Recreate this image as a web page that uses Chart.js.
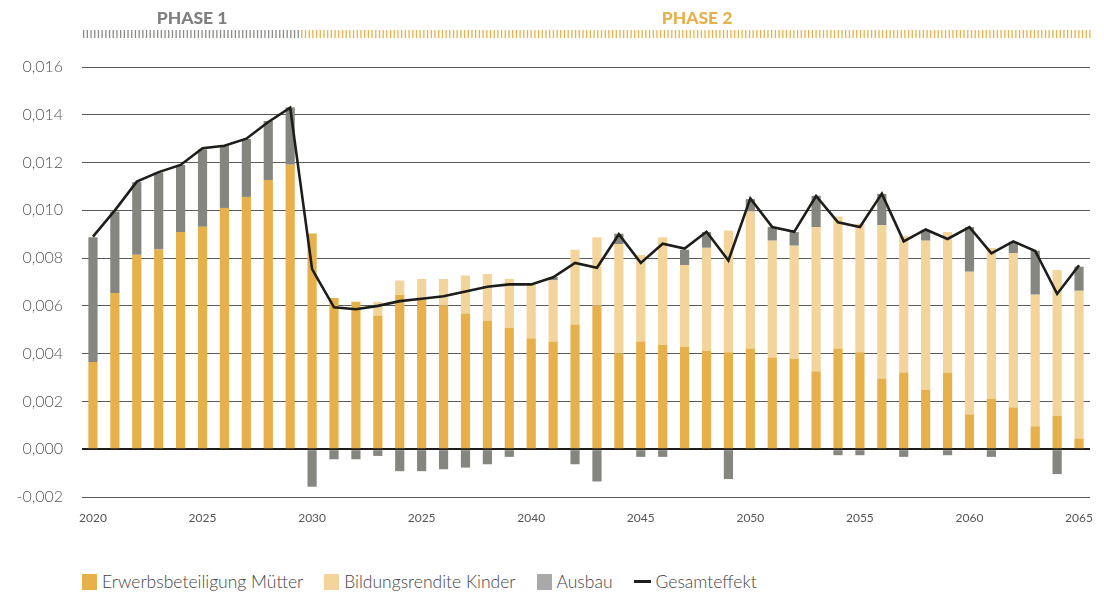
<!DOCTYPE html>
<html>
<head>
<meta charset="utf-8">
<script src="https://cdn.jsdelivr.net/npm/chart.js@4.4.0/dist/chart.umd.min.js"></script>
<style>
  html, body { margin: 0; padding: 0; background: #fff; }
  #wrap { position: relative; width: 1104px; height: 593px; }
  #chartBox { position: absolute; left: 0; top: 0; width: 1104px; height: 530px; }
  #legend { position: absolute; left: 82px; top: 571px; display: flex; font-family: Lato, 'Open Sans', sans-serif; font-size: 17.5px; font-weight: 300; color: #444; }
  #legend .item { display: flex; align-items: center; margin-right: 21px; }
  #legend .sw { width: 15px; height: 16px; margin-right: 5px; }
  #legend .ln { width: 17px; height: 3px; background: #1d1d1b; margin-right: 5px; }
</style>
</head>
<body>
<div id="wrap">
  <div id="chartBox"><canvas id="chart"></canvas></div>
  <div id="legend"></div>
</div>
<script>
// Data
const years = [];
for (let y = 2020; y <= 2065; y++) years.push(String(y));
const tickLabels = ['2020', '2025', '2030', '2025', '2040', '2045', '2050', '2055', '2060', '2065'];
const yTicks = [-0.002, 0, 0.002, 0.004, 0.006, 0.008, 0.010, 0.012, 0.014, 0.016];

const erwerbMuetter = [
    0.00365, 0.00654, 0.00814, 0.00836, 0.00909, 0.00931, 0.0101, 0.01056, 0.01127, 0.01191,
    0.00903, 0.00633, 0.00617, 0.0056, 0.00647, 0.00626, 0.00601, 0.00568, 0.00539, 0.00509,
    0.00463, 0.00451, 0.00522, 0.00601, 0.00401, 0.00451, 0.00436, 0.00429, 0.00412, 0.00406,
    0.00422, 0.00384, 0.00379, 0.00326, 0.00422, 0.00406, 0.00296, 0.00321, 0.00248, 0.00321,
    0.00146, 0.00212, 0.00175, 0.00096, 0.00139, 0.00045
];
const bildungKinder = [
    0, 0, 0, 0, 0, 0, 0, 0, 0, 0,
    0, 0, 0, 0.00057, 0.00059, 0.00087, 0.00112, 0.00159, 0.00194, 0.00204,
    0.00226, 0.00256, 0.00313, 0.00286, 0.00458, 0.00362, 0.00451, 0.00342, 0.00431, 0.0051,
    0.00573, 0.00489, 0.00473, 0.00604, 0.00552, 0.00538, 0.00642, 0.00573, 0.00625, 0.00588,
    0.00597, 0.0063, 0.00646, 0.00551, 0.00611, 0.00618
];
const ausbau = [
    0.00522, 0.00341, 0.00304, 0.00322, 0.00281, 0.00324, 0.00259, 0.00243, 0.00247, 0.0024,
    -0.00157, -0.00042, -0.00042, -0.00028, -0.00092, -0.00092, -0.00084, -0.00077, -0.00063, -0.00032,
    0, 0.00014, -0.00063, -0.00135, 0.00043, -0.00032, -0.00032, 0.00064, 0.00066, -0.00125,
    0.00052, 0.00057, 0.00057, 0.00131, -0.00025, -0.00025, 0.00131, -0.00032, 0.00043, -0.00025,
    0.00187, -0.00032, 0.00047, 0.00184, -0.00104, 0.00101
];
const gesamteffekt = [
    0.0089, 0.0100, 0.0112, 0.0116, 0.0119, 0.0126, 0.0127, 0.0130, 0.0137, 0.0143,
    0.00754, 0.00594, 0.00586, 0.0060, 0.0062, 0.0063, 0.0064, 0.0066, 0.0068, 0.0069,
    0.0069, 0.0072, 0.0078, 0.0076, 0.0090, 0.0078, 0.0086, 0.0084, 0.0091, 0.0079,
    0.0105, 0.0093, 0.0091, 0.0106, 0.0095, 0.0093, 0.0107, 0.0087, 0.0092, 0.0088,
    0.0093, 0.0082, 0.0087, 0.0083, 0.0065, 0.0077
];

const seriesNames = ['Erwerbsbeteiligung Mütter', 'Bildungsrendite Kinder', 'Ausbau', 'Gesamteffekt'];
const phaseNames = ['PHASE 1', 'PHASE 2'];
const phase1Years = 10; // 2020-2029

const YELLOW = '#e6b14a';
const LIGHT = '#f3d49b';
const GRAY = '#868681';
const LINE = '#1d1d1b';

// phase header strip above the plot
const phasePlugin = {
    id: 'phases',
    afterDraw(chart) {
        const ctx = chart.ctx;
        const x = chart.scales.x;
        const area = chart.chartArea;
        const split = (x.getPixelForValue(phase1Years - 1) + x.getPixelForValue(phase1Years)) / 2;
        const left = area.left + 1;
        const right = area.right + 3;

        ctx.save();
        ctx.lineWidth = 8;
        ctx.setLineDash([1.3, 2.4]);
        ctx.strokeStyle = '#8a8a87';
        ctx.beginPath();
        ctx.moveTo(left, 34);
        ctx.lineTo(split, 34);
        ctx.stroke();
        ctx.strokeStyle = YELLOW;
        ctx.beginPath();
        ctx.moveTo(split, 34);
        ctx.lineTo(right, 34);
        ctx.stroke();
        ctx.setLineDash([]);

        ctx.font = "900 17.5px Lato, 'Open Sans', sans-serif";
        ctx.textAlign = 'center';
        ctx.textBaseline = 'middle';
        ctx.fillStyle = '#808080';
        ctx.fillText(phaseNames[0], (left + split) / 2, 18);
        ctx.fillStyle = YELLOW;
        ctx.fillText(phaseNames[1], (split + right) / 2, 18);
        ctx.restore();
    }
};

const barOpts = { barPercentage: 0.42, categoryPercentage: 1, borderWidth: 0, order: 1 };

new Chart(document.getElementById('chart'), {
    type: 'bar',
    data: {
        labels: years,
        datasets: [
            { label: seriesNames[0], data: erwerbMuetter, backgroundColor: YELLOW, ...barOpts },
            { label: seriesNames[1], data: bildungKinder, backgroundColor: LIGHT, ...barOpts },
            { label: seriesNames[2], data: ausbau, backgroundColor: GRAY, ...barOpts },
            {
                label: seriesNames[3],
                data: gesamteffekt,
                type: 'line',
                stack: 'total',
                order: 0,
                borderColor: LINE,
                borderWidth: 2.6,
                pointRadius: 0,
                tension: 0,
                fill: false
            }
        ]
    },
    options: {
        responsive: true,
        maintainAspectRatio: false,
        animation: false,
        layout: { padding: { top: 67, right: 14, left: 0, bottom: 0 } },
        plugins: {
            legend: { display: false },
            tooltip: { enabled: false }
        },
        scales: {
            x: {
                stacked: true,
                grid: { display: false },
                border: { display: false },
                ticks: {
                    autoSkip: false,
                    maxRotation: 0,
                    padding: 6,
                    color: '#555',
                    font: { family: "Lato, 'Open Sans', sans-serif", size: 12 },
                    callback: (val, i) => (i % 5 === 0 ? tickLabels[i / 5] : '')
                },
                afterFit(scale) { scale.height = 33; }
            },
            y: {
                stacked: true,
                min: -0.002,
                max: 0.016,
                afterBuildTicks(scale) { scale.ticks = yTicks.map(v => ({ value: v })); },
                grid: {
                    drawTicks: false,
                    color: ctx => (ctx.tick && ctx.tick.value === 0 ? '#1d1d1b' : '#5a5a5a'),
                    lineWidth: ctx => (ctx.tick && ctx.tick.value === 0 ? 2 : 1)
                },
                border: { display: false },
                ticks: {
                    padding: 19,
                    color: '#555',
                    font: { family: "Lato, 'Open Sans', sans-serif", size: 16, weight: '300' },
                    callback: v => v.toFixed(3).replace('.', ',')
                },
                afterFit(scale) { scale.width = 82; }
            }
        }
    },
    plugins: [phasePlugin]
});

// legend below the chart
const legendEl = document.getElementById('legend');
const legendColors = [YELLOW, LIGHT, '#a9a9a9'];
seriesNames.forEach((name, i) => {
    const item = document.createElement('div');
    item.className = 'item';
    const mark = document.createElement('span');
    if (i < 3) {
        mark.className = 'sw';
        mark.style.background = legendColors[i];
    } else {
        mark.className = 'ln';
    }
    item.appendChild(mark);
    item.appendChild(document.createTextNode(name));
    legendEl.appendChild(item);
});
</script>
</body>
</html>
